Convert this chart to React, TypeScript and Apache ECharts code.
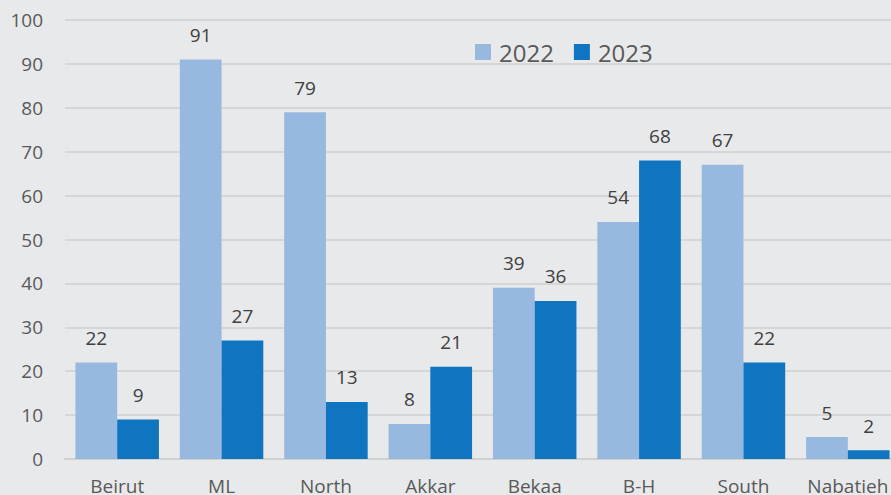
import React, { useEffect, useRef } from "react";
import * as echarts from "echarts";

const categories = ["Beirut", "ML", "North", "Akkar", "Bekaa", "B-H", "South", "Nabatieh"];
const values2022 = [22, 91, 79, 8, 39, 54, 67, 5];
const values2023 = [9, 27, 13, 21, 36, 68, 22, 2];
const seriesNames = ["2022", "2023"];

const FONT = "'Open Sans', 'Noto Sans', sans-serif";

export default function App() {
  const ref = useRef<HTMLDivElement>(null);
  useEffect(() => {
    document.body.style.margin = "0";
    if (!ref.current) return;
    const chart = echarts.init(ref.current, undefined, { renderer: "svg" });
    const labelCfg = {
      show: true,
      position: "top",
      distance: 15,
      color: "#404040",
      fontSize: 19,
      fontFamily: FONT,
    };
    chart.setOption({
      animation: false,
      backgroundColor: "#E8E9EB",
      grid: { left: 65, top: 20, bottom: 36, right: -9, outerBoundsMode: "none", containLabel: false },
      legend: {
        data: seriesNames,
        top: 35,
        left: 470,
        itemWidth: 16,
        itemHeight: 16,
        itemGap: 20,
        icon: "rect",
        textStyle: { fontSize: 24, color: "#595959", fontFamily: FONT, padding: [0, 0, 0, 3] },
      },
      xAxis: {
        type: "category",
        data: categories,
        axisLine: { lineStyle: { color: "#D0D0D0", width: 2 } },
        axisTick: { show: false },
        axisLabel: { color: "#595959", fontSize: 19, fontFamily: FONT, margin: 17, interval: 0 },
      },
      yAxis: {
        type: "value",
        min: 0,
        max: 100,
        interval: 10,
        axisLine: { show: false },
        axisTick: { show: false },
        splitLine: { lineStyle: { color: "#D6D6D6", width: 2 } },
        axisLabel: { color: "#595959", fontSize: 19, fontFamily: FONT, margin: 22 },
      },
      series: [
        {
          name: seriesNames[0],
          type: "bar",
          data: values2022,
          itemStyle: { color: "#97B9E0" },
          barGap: "0%",
          barCategoryGap: "20%",
          label: labelCfg,
        },
        {
          name: seriesNames[1],
          type: "bar",
          data: values2023,
          itemStyle: { color: "#0F75C0" },
          barGap: "0%",
          barCategoryGap: "20%",
          label: labelCfg,
        },
      ],
    });
    return () => chart.dispose();
  }, []);
  return <div ref={ref} style={{ width: 891, height: 495 }} />;
}
